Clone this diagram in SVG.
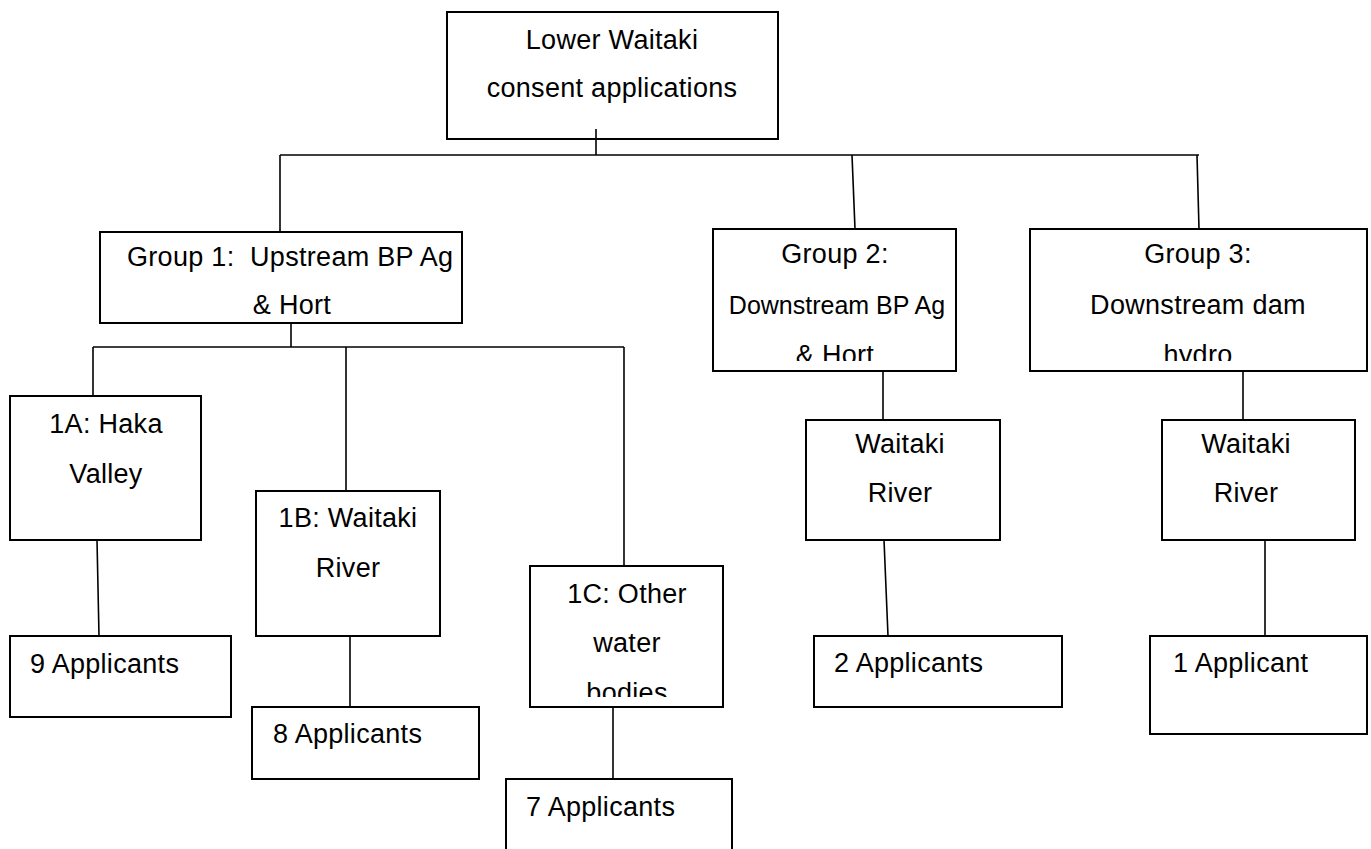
<svg xmlns="http://www.w3.org/2000/svg" width="1371" height="849" viewBox="0 0 1371 849">
<style>
.box{fill:#fff;stroke:#000;stroke-width:2}
.ln{stroke:#000;stroke-width:1.6;fill:none}
text{font-family:"Liberation Sans",Arial,sans-serif;font-size:27px;fill:#000;letter-spacing:0.3px}
.c{text-anchor:middle}
</style>
<defs>
<clipPath id="cg1"><rect x="100" y="232" width="362" height="89"/></clipPath>
<clipPath id="cg2"><rect x="713" y="229" width="243" height="132"/></clipPath>
<clipPath id="cg3"><rect x="1030" y="229" width="337" height="132"/></clipPath>
<clipPath id="c1c"><rect x="530" y="566" width="193" height="131"/></clipPath>
</defs>
<rect width="1371" height="849" fill="#fff"/>
<g id="connectors">
<line class="ln" x1="596" y1="129" x2="596" y2="155"/>
<line class="ln" x1="280" y1="155" x2="1199" y2="155"/>
<line class="ln" x1="280" y1="155" x2="280" y2="232"/>
<line class="ln" x1="852" y1="155" x2="855" y2="229"/>
<line class="ln" x1="1197" y1="155" x2="1199" y2="229"/>
<line class="ln" x1="291" y1="323" x2="291" y2="347"/>
<line class="ln" x1="93" y1="347" x2="624" y2="347"/>
<line class="ln" x1="93" y1="347" x2="93" y2="396"/>
<line class="ln" x1="346" y1="347" x2="346" y2="491"/>
<line class="ln" x1="624" y1="347" x2="624" y2="566"/>
<line class="ln" x1="97" y1="540" x2="99" y2="636"/>
<line class="ln" x1="350" y1="636" x2="350" y2="707"/>
<line class="ln" x1="613" y1="707" x2="613" y2="779"/>
<line class="ln" x1="883" y1="371" x2="883" y2="420"/>
<line class="ln" x1="884" y1="540" x2="888" y2="636"/>
<line class="ln" x1="1243" y1="371" x2="1243" y2="420"/>
<line class="ln" x1="1265" y1="540" x2="1265" y2="636"/>
</g>
<g id="root">
<rect class="box" x="447" y="12" width="331" height="127"/>
<text class="c" x="612" y="49">Lower Waitaki</text>
<text class="c" x="612" y="97">consent applications</text>
</g>
<line class="ln" x1="596" y1="129" x2="596" y2="139"/>
<g id="group1">
<rect class="box" x="100" y="232" width="362" height="91"/>
<g clip-path="url(#cg1)">
<text x="127" y="266" style="white-space:pre">Group 1:  Upstream BP Ag</text>
<text class="c" x="292" y="314">&amp; Hort</text>
</g>
</g>
<g id="group2">
<rect class="box" x="713" y="229" width="243" height="142"/>
<g clip-path="url(#cg2)">
<text class="c" x="835" y="263">Group 2:</text>
<text class="c" x="837" y="314" style="font-size:25px;letter-spacing:0">Downstream BP Ag</text>
<text class="c" x="835" y="364">&amp; Hort</text>
</g>
</g>
<g id="group3">
<rect class="box" x="1030" y="229" width="337" height="142"/>
<g clip-path="url(#cg3)">
<text class="c" x="1198" y="263">Group 3:</text>
<text class="c" x="1198" y="314">Downstream dam</text>
<text class="c" x="1198" y="364">hydro</text>
</g>
</g>
<g id="n1a">
<rect class="box" x="10" y="396" width="191" height="144"/>
<text class="c" x="106" y="433">1A: Haka</text>
<text class="c" x="106" y="483">Valley</text>
</g>
<g id="n1b">
<rect class="box" x="256" y="491" width="184" height="145"/>
<text class="c" x="348" y="527">1B: Waitaki</text>
<text class="c" x="348" y="577">River</text>
</g>
<g id="n1c">
<rect class="box" x="530" y="566" width="193" height="141"/>
<g clip-path="url(#c1c)">
<text class="c" x="627" y="603">1C: Other</text>
<text class="c" x="627" y="652">water</text>
<text class="c" x="627" y="702">bodies</text>
</g>
</g>
<g id="a9">
<rect class="box" x="10" y="636" width="221" height="81"/>
<text x="30" y="673">9 Applicants</text>
</g>
<g id="a8">
<rect class="box" x="252" y="707" width="227" height="72"/>
<text x="273" y="743">8 Applicants</text>
</g>
<g id="a7">
<rect class="box" x="506" y="779" width="226" height="80"/>
<text x="526" y="816">7 Applicants</text>
</g>
<g id="wr2">
<rect class="box" x="806" y="420" width="194" height="120"/>
<text class="c" x="900" y="453">Waitaki</text>
<text class="c" x="900" y="502">River</text>
</g>
<g id="wr3">
<rect class="box" x="1162" y="420" width="193" height="120"/>
<text class="c" x="1246" y="453">Waitaki</text>
<text class="c" x="1246" y="502">River</text>
</g>
<g id="a2">
<rect class="box" x="814" y="636" width="248" height="71"/>
<text x="834" y="672">2 Applicants</text>
</g>
<g id="a1">
<rect class="box" x="1150" y="636" width="217" height="98"/>
<text x="1173" y="672">1 Applicant</text>
</g>
</svg>
